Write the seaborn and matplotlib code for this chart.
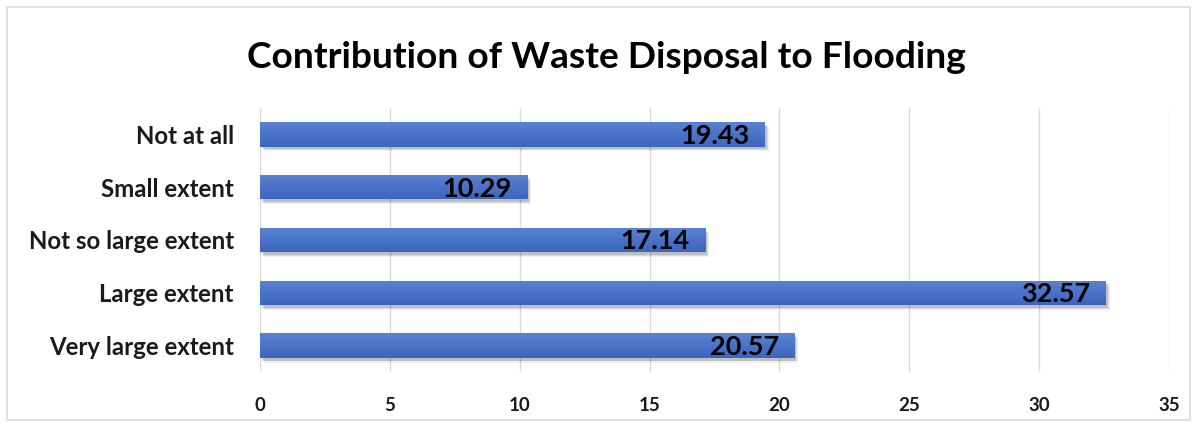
import matplotlib
matplotlib.use("Agg")
import matplotlib.pyplot as plt
import matplotlib.patheffects as pe
from matplotlib.patches import Rectangle
import seaborn as sns
import pandas as pd
import numpy as np

categories = ["Not at all", "Small extent", "Not so large extent", "Large extent", "Very large extent"]
values = [19.43, 10.29, 17.14, 32.57, 20.57]
x_ticks = [0, 5, 10, 15, 20, 25, 30, 35]

df = pd.DataFrame({"category": categories, "value": values})

sns.set_theme(style="white")
plt.rcParams["font.family"] = ["Lato", "DejaVu Sans"]

fig = plt.figure(figsize=(12.01, 4.26), dpi=100)
ax = fig.add_axes([0.2165, 0.1268, 0.7569, 0.6197])

sns.barplot(data=df, y="category", x="value", orient="h", color="#4472C4",
            width=0.46, saturation=1, ax=ax, zorder=3)

# soft drop shadow built from a few faint offset layers
shadow = [pe.SimplePatchShadow(offset=(o, -o - 0.5), shadow_rgbFace="#000000", alpha=a)
          for o, a in [(3.0, 0.06), (2.2, 0.09), (1.5, 0.12)]] + [pe.Normal()]

# vertical gradient fill for each bar
grad = np.linspace(0, 1, 64).reshape(-1, 1)
cmap = matplotlib.colors.LinearSegmentedColormap.from_list("barfill", ["#5a82d2", "#3c66bd"])
for bar in ax.patches:
    bar.set_edgecolor("none")
    bar.set_path_effects(shadow)
    x0, y0, w, h = bar.get_x(), bar.get_y(), bar.get_width(), bar.get_height()
    im = ax.imshow(grad, cmap=cmap, aspect="auto", extent=(x0, x0 + w, y0 + h, y0),
                   origin="upper", zorder=3.5, interpolation="bicubic")
    im.set_clip_path(bar)

ax.set_ylim(4.5, -0.5)
ax.set_xlim(0, 35)

for bar, v in zip(ax.patches, values):
    ax.annotate(f"{v:.2f}", xy=(bar.get_width(), bar.get_y() + bar.get_height() / 2),
                xytext=(-11, -1), textcoords="offset points", ha="right", va="center",
                fontsize=19.5, fontweight="bold", color="#000000", zorder=5)

ax.set_xticks(x_ticks)
ax.set_xticklabels([str(t) for t in x_ticks], fontsize=13.5, fontweight="bold", color="#1a1a1a")
ax.tick_params(axis="y", labelsize=17.3, length=0, pad=19)
for lbl in ax.get_yticklabels():
    lbl.set_fontweight("bold")
    lbl.set_color("#1a1a1a")
ax.tick_params(axis="x", length=0, pad=18)
ax.set_xlabel("")
ax.set_ylabel("")
ax.grid(axis="x", color="#d9d9d9", linewidth=1, zorder=0)
ax.grid(axis="y", visible=False)
for s in ax.spines.values():
    s.set_visible(False)

fig.text(0.505, 0.865, "Contribution of Waste Disposal to Flooding", ha="center", va="center",
         fontsize=26.7, fontweight="bold", color="#000000")

fig.patches.append(Rectangle((7 / 1201, 6 / 426), 1183 / 1201, 413 / 426, transform=fig.transFigure,
                             fill=False, edgecolor="#d9d9d9", linewidth=1.2))

fig.savefig("out.png", dpi=100)
